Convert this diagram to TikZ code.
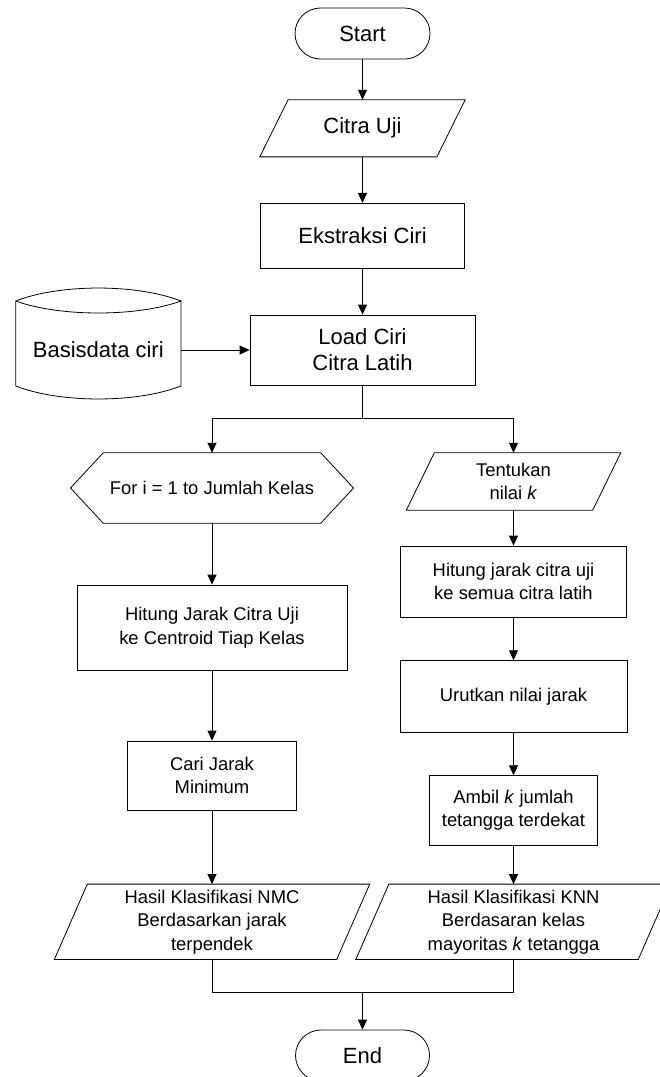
\documentclass[tikz,border=0pt]{standalone}
\usepackage{fontspec}
\setmainfont{Liberation Sans}
\usetikzlibrary{arrows.meta,calc}
\newcommand\drawpara[2]{\draw[line] (#1.south west) -- ($(#1.north west)+(#2,0)$) -- (#1.north east) -- ($(#1.south east)+(-#2,0)$) -- cycle;}
\begin{document}
\begin{tikzpicture}[x=1pt,y=-1pt,
  line/.style={line width=0.8pt, draw=black},
  arr/.style={line, -{Triangle[length=10pt,width=9pt]}},
  big/.style={font=\fontsize{22}{26}\selectfont},
  small/.style={font=\fontsize{18.4}{23.5}\selectfont},
  box/.style={line, rectangle, align=center, inner sep=0pt},
  term/.style={box, rounded corners=25.5pt},
  shp/.style={rectangle, align=center, inner sep=0pt},
  ]
\fill[white] (0,0) rectangle (660,1077);
\useasboundingbox (0,0) rectangle (660,1077);

% centre column
\node[term,big,minimum width=135pt,minimum height=51pt] (start) at (362.5,33.5) {Start};
\node[shp,big,minimum width=205pt,minimum height=56.7pt] (citra) at (362.5,128.3) {Citra Uji};
\drawpara{citra}{28.3}
\node[box,big,minimum width=204.6pt,minimum height=64.7pt] (ekstr) at (362.5,235.7) {Ekstraksi Ciri};
\node[box,big,minimum width=225pt,minimum height=70pt] (load) at (362.5,350) {Load Ciri\\Citra Latih};

% database
\node[shp,big,minimum width=165.3pt,minimum height=85pt] (basis) at (98.3,350) {Basisdata ciri};
\draw[line] (15.7,301) .. controls (60,283.7) and (136.7,283.7) .. (181,301)
  .. controls (136.7,317) and (60,317) .. (15.7,301)
  -- (15.7,386) .. controls (60,403.3) and (136.7,403.3) .. (181,386) -- (181,301);

% left column
\node[shp,small,minimum width=282.6pt,minimum height=70pt] (loop) at (212,488) {For i = 1 to Jumlah Kelas};
\draw[line] (loop.west) -- ($(loop.north west)+(32.7,0)$) -- ($(loop.north east)+(-32.7,0)$) -- (loop.east)
  -- ($(loop.south east)+(-32.7,0)$) -- ($(loop.south west)+(32.7,0)$) -- cycle;
\node[box,small,minimum width=270pt,minimum height=85pt] (hitL) at (212,627.5) {Hitung Jarak Citra Uji\\ke Centroid Tiap Kelas};
\node[box,small,minimum width=168.4pt,minimum height=69pt] (cari) at (212,775.5) {Cari Jarak\\Minimum};
\node[shp,small,minimum width=315pt,minimum height=75pt] (nmc) at (212,921.8) {Hasil Klasifikasi NMC\\Berdasarkan jarak\\terpendek};
\drawpara{nmc}{33}

% right column
\node[shp,small,minimum width=214pt,minimum height=57pt] (tentu) at (513.5,481.5) {Tentukan\\nilai \textit{k}};
\drawpara{tentu}{28}
\node[box,small,minimum width=226.6pt,minimum height=71pt] (hitR) at (513.5,581.5) {Hitung jarak citra uji\\ke semua citra latih};
\node[box,small,minimum width=227pt,minimum height=71.3pt] (urut) at (513.5,696.3) {Urutkan nilai jarak};
\node[box,small,minimum width=167.7pt,minimum height=69.3pt] (ambil) at (513.5,810.3) {Ambil \textit{k} jumlah\\tetangga terdekat};
\node[shp,small,minimum width=315pt,minimum height=75pt] (knn) at (513.5,921.8) {Hasil Klasifikasi KNN\\Berdasaran kelas\\mayoritas \textit{k} tetangga};
\drawpara{knn}{33}

\node[term,big,minimum width=134pt,minimum height=51pt] (end) at (362.5,1055.5) {End};

% connectors
\draw[arr] (start) -- (citra);
\draw[arr] (citra) -- (ekstr);
\draw[arr] (ekstr) -- (load);
\draw[arr] (basis.east) -- (load.west);
\coordinate (split) at (362.5,418);
\draw[line] (load.south) -- (split);
\draw[arr] (split) -| (loop.north);
\draw[arr] (split) -| (tentu.north);
\draw[arr] (loop) -- (hitL);
\draw[arr] (hitL) -- (cari);
\draw[arr] (cari) -- (nmc);
\draw[arr] (tentu) -- (hitR);
\draw[arr] (hitR) -- (urut);
\draw[arr] (urut) -- (ambil);
\draw[arr] (ambil) -- (knn);
\coordinate (merge) at (362.5,992.7);
\draw[line] (nmc.south) |- (merge) -| (knn.south);
\draw[arr] (merge) -- (end.north);
\end{tikzpicture}
\end{document}
